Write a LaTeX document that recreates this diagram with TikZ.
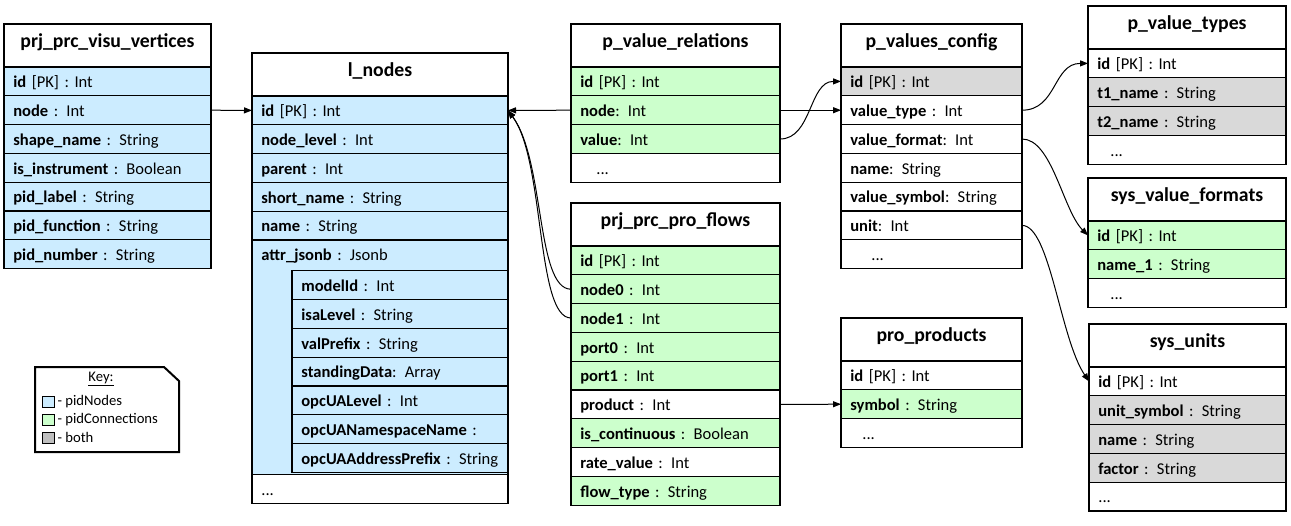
\documentclass[tikz,border=0pt]{standalone}
\usepackage{fontspec}
\setmainfont{Carlito}
\usepackage{xcolor}
\usepackage{tikz}
\usetikzlibrary{arrows.meta}
\usetikzlibrary{positioning}

\definecolor{pnodes}{RGB}{204,236,255}
\definecolor{pconn}{RGB}{204,255,204}
\definecolor{pboth}{RGB}{217,217,217}
\definecolor{keyboth}{RGB}{191,191,191}

\begin{document}
\begin{tikzpicture}[x=0.75pt, y=-0.75pt, >={Triangle[length=6pt,width=4.5pt]}, line width=0.75pt,
    row/.style={draw, line width=0.9pt, outer sep=0pt, inner xsep=7pt, inner ysep=0pt,
        text width=#1*0.75pt-14pt, minimum height=21.6pt, text height=12pt, text depth=2.5pt,
        align=left, anchor=north west, font=\fontsize{12.4}{15}\selectfont},
    head/.style={row=#1, align=center, minimum height=32.25pt, text height=8pt, text depth=5pt,
        font=\bfseries\fontsize{14.8}{17}\selectfont}]
    \tikzstyle{keysq}=[draw, line width=0.6pt, minimum width=9pt, minimum height=8.25pt, inner sep=0pt]
    \tikzstyle{keytxt}=[inner xsep=2pt, inner ysep=0pt, font=\fontsize{11}{13}\selectfont]

    \path[use as bounding box, fill=white] (0,0) rectangle (1291,525);

    % prj_prc_visu_vertices
    \node[head=207] (vv-hd) at (4,24) {prj\_prc\_visu\_vertices};
    \foreach \nm/\tx/\cl [remember=\nm as \pv (initially hd)] in {
        id/{\textbf{id} [PK] : Int}/pnodes,
        node/{\textbf{node} : Int}/pnodes,
        shape/{\textbf{shape\_name} : String}/pnodes,
        instr/{\textbf{is\_instrument} : Boolean}/pnodes,
        label/{\textbf{pid\_label} : String}/pnodes,
        func/{\textbf{pid\_function} : String}/pnodes,
        number/{\textbf{pid\_number} : String}/pnodes}
        \node[row=207, fill=\cl, below=0pt of vv-\pv] (vv-\nm) {\tx};

    % l_nodes
    \node[head=256] (ln-hd) at (252,53) {l\_nodes};
    \foreach \nm/\tx/\cl [remember=\nm as \pv (initially hd)] in {
        id/{\textbf{id} [PK] : Int}/pnodes,
        level/{\textbf{node\_level} : Int}/pnodes,
        parent/{\textbf{parent} : Int}/pnodes,
        short/{\textbf{short\_name} : String}/pnodes,
        name/{\textbf{name} : String}/pnodes}
        \node[row=256, fill=\cl, below=0pt of ln-\pv] (ln-\nm) {\tx};
    \node[row=256, fill=pnodes, minimum height=175.8pt, below=0pt of ln-name] (ln-json) {};
    \node[row=256, draw=none] (ln-attr) at (ln-json.north west) {\textbf{attr\_jsonb} : Jsonb};
    \node[row=216, fill=pnodes, below=1.5pt of ln-attr.south east, anchor=north east] (ln-model)
        {\textbf{modelId} : Int};
    \foreach \nm/\tx [remember=\nm as \pv (initially model)] in {
        isa/{\textbf{isaLevel} : String},
        prefix/{\textbf{valPrefix} : String},
        standing/{\textbf{standingData}: Array},
        opclevel/{\textbf{opcUALevel} : Int},
        opcns/{\textbf{opcUANamespaceName} :},
        opcaddr/{\mbox{\textbf{opcUAAddressPrefix} : String}}}
        \node[row=216, fill=pnodes, below=0pt of ln-\pv] (ln-\nm) {\tx};
    \node[row=256, below=0pt of ln-json] (ln-more) {...};

    % p_value_relations
    \node[head=209] (pvr-hd) at (571,24) {p\_value\_relations};
    \foreach \nm/\tx/\cl [remember=\nm as \pv (initially hd)] in {
        id/{\textbf{id} [PK] : Int}/pconn,
        node/{\textbf{node}: Int}/pconn,
        value/{\textbf{value}: Int}/pconn,
        more/{\hspace{12pt}...}/white}
        \node[row=209, fill=\cl, below=0pt of pvr-\pv] (pvr-\nm) {\tx};

    % prj_prc_pro_flows
    \node[head=209] (ppf-hd) at (571,203) {prj\_prc\_pro\_flows};
    \foreach \nm/\tx/\cl [remember=\nm as \pv (initially hd)] in {
        id/{\textbf{id} [PK] : Int}/pconn,
        node0/{\textbf{node0} : Int}/pconn,
        node1/{\textbf{node1} : Int}/pconn,
        port0/{\textbf{port0} : Int}/pconn,
        port1/{\textbf{port1} : Int}/pconn,
        product/{\textbf{product} : Int}/white,
        cont/{\textbf{is\_continuous} : Boolean}/pconn,
        rate/{\textbf{rate\_value} : Int}/white,
        flow/{\textbf{flow\_type} : String}/pconn}
        \node[row=209, fill=\cl, below=0pt of ppf-\pv] (ppf-\nm) {\tx};

    % p_values_config
    \node[head=181] (pvc-hd) at (841,24) {p\_values\_config};
    \foreach \nm/\tx/\cl [remember=\nm as \pv (initially hd)] in {
        id/{\textbf{id} [PK] : Int}/pboth,
        type/{\textbf{value\_type} : Int}/white,
        format/{\textbf{value\_format}: Int}/white,
        name/{\textbf{name}: String}/white,
        symbol/{\textbf{value\_symbol}: String}/white,
        unit/{\textbf{unit}: Int}/white,
        more/{\hspace{15.75pt}...}/white}
        \node[row=181, fill=\cl, below=0pt of pvc-\pv] (pvc-\nm) {\tx};

    % pro_products
    \node[head=181] (pp-hd) at (841,318) {pro\_products};
    \foreach \nm/\tx/\cl [remember=\nm as \pv (initially hd)] in {
        id/{\textbf{id} [PK] : Int}/white,
        symbol/{\textbf{symbol} : String}/pconn,
        more/{\hspace{9pt}...}/white}
        \node[row=181, fill=\cl, below=0pt of pp-\pv] (pp-\nm) {\tx};

    % p_value_types
    \node[head=198] (pvt-hd) at (1088,6) {p\_value\_types};
    \foreach \nm/\tx/\cl [remember=\nm as \pv (initially hd)] in {
        id/{\textbf{id} [PK] : Int}/white,
        t1/{\textbf{t1\_name} : String}/pboth,
        t2/{\textbf{t2\_name} : String}/pboth,
        more/{\hspace{9.75pt}...}/white}
        \node[row=198, fill=\cl, below=0pt of pvt-\pv] (pvt-\nm) {\tx};

    % sys_value_formats
    \node[head=198] (svf-hd) at (1088,178) {sys\_value\_formats};
    \foreach \nm/\tx/\cl [remember=\nm as \pv (initially hd)] in {
        id/{\textbf{id} [PK] : Int}/pconn,
        name/{\textbf{name\_1} : String}/pconn,
        more/{\hspace{9.75pt}...}/white}
        \node[row=198, fill=\cl, below=0pt of svf-\pv] (svf-\nm) {\tx};

    % sys_units
    \node[head=197] (su-hd) at (1089,324) {sys\_units};
    \foreach \nm/\tx/\cl [remember=\nm as \pv (initially hd)] in {
        id/{\textbf{id} [PK] : Int}/white,
        usym/{\textbf{unit\_symbol} : String}/pboth,
        name/{\textbf{name} : String}/pboth,
        factor/{\textbf{factor} : String}/pboth,
        more/{...}/white}
        \node[row=197, fill=\cl, below=0pt of su-\pv] (su-\nm) {\tx};

    % key
    \draw[line width=1.5pt] (35,367) -- (164,367) -- (179,381) -- (179,452) -- (35,452) -- cycle;
    \node[keytxt] (key) at (101,379) {\underline{Key:}};
    \node[keysq, fill=pnodes] (k-nodes) at (48,401.5) {};
    \node[keysq, fill=pconn] (k-conn) at (48,419.5) {};
    \node[keysq, fill=keyboth] (k-both) at (48,437.5) {};
    \node[keytxt, right=0pt of k-nodes] (k-nodes-t) {- pidNodes};
    \node[keytxt, right=0pt of k-conn] (k-conn-t) {- pidConnections};
    \node[keytxt, right=0pt of k-both] (k-both-t) {- both};

    % links
    \draw[->] (vv-node.east) -- (ln-id.west);
    \draw[->] (pvr-node.west) -- (ln-id.east);
    \draw[->] (ppf-node0.west) .. controls +(-35,0) and +(37,50) .. (ln-id.east);
    \draw[->] (ppf-node1.west) .. controls +(-35,0) and +(37,50) .. (ln-id.east);
    \draw[->] (pvr-node.east) -- (pvc-type.west);
    \draw[->] (pvr-value.east) .. controls +(32,0) and +(-32,0) .. (pvc-id.west);
    \draw[->] (pvc-type.east) .. controls +(35,0) and +(-35,0) .. (pvt-id.west);
    \draw[->] (pvc-format.east) .. controls +(30,0) and +(-25,-25) .. (svf-id.west);
    \draw[->] (pvc-unit.east) .. controls +(28,0) and +(-29,-43) .. (su-id.west);
    \draw[->] (ppf-product.east) -- (pp-symbol.west);
\end{tikzpicture}
\end{document}
